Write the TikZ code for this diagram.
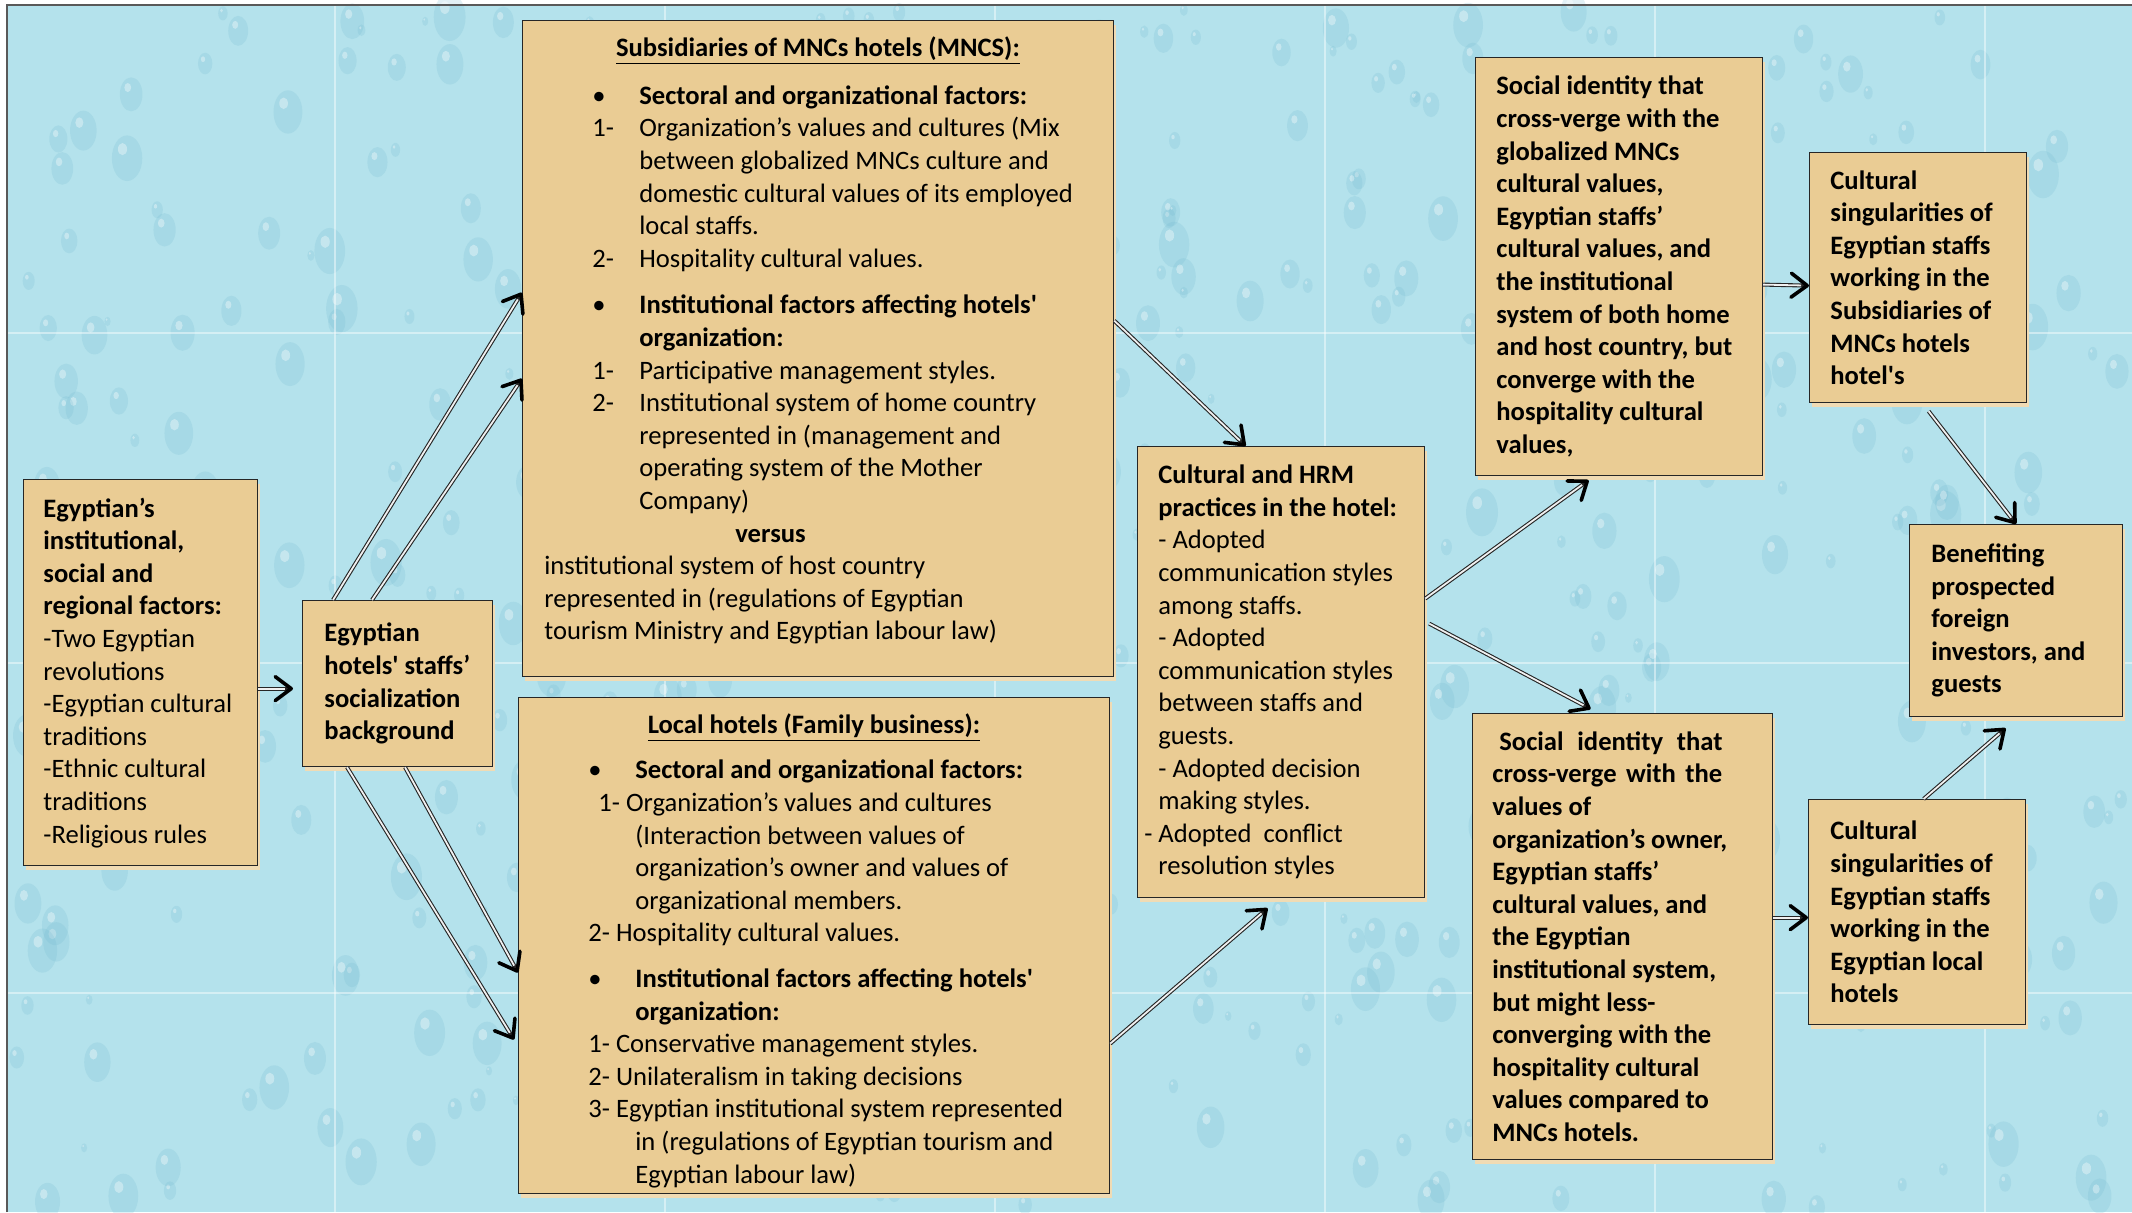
\documentclass[tikz,border=0pt]{standalone}
\usepackage{fontspec}
\setmainfont{Carlito}
\usetikzlibrary{arrows.meta,positioning,calc,shadows}
\definecolor{water}{RGB}{180,226,236}
\definecolor{dropc}{RGB}{112,184,206}
\definecolor{paper}{RGB}{234,204,148}
\tikzset{
  box/.style={draw=black!85,line width=0.6pt,fill=paper,anchor=north west,inner sep=0pt,
    drop shadow={shadow xshift=1.2pt,shadow yshift=-2pt,fill=paper!70!white,opacity=1}},
  txt/.style={anchor=west,align=left,inner sep=0pt,font=\fontsize{13.3}{16.3}\selectfont},
  txtb/.style={txt,font=\fontsize{13.3}{16.3}\selectfont\bfseries},
  arr/.style={draw=black!85,line width=2pt,-{Straight Barb[length=8pt,width=12pt,line width=1.8pt,round,black]},
    postaction={draw=white!88!gray,line width=0.9pt,arrows=-,shorten >=4pt}},
  seam/.style={white,line width=0.7pt,opacity=0.45},
}

\begin{document}
\begin{tikzpicture}[x=0.5pt,y=-0.5pt]
 \useasboundingbox (0,0) rectangle (2132,1212);
 \fill[white] (0,0) rectangle (2132,1212);
 \fill[water] (7,5) rectangle (2132,1212);
 \pgfmathsetseed{11}
 \foreach \i in {1,...,520}{
  \pgfmathsetmacro\dx{15+rnd*2110}\pgfmathsetmacro\dy{10+rnd*1198}\pgfmathsetmacro\dr{3+rnd*13}
  \fill[dropc,opacity=0.2] (\dx,\dy) ellipse [x radius=\dr,y radius=1.5*\dr];
  \fill[white,opacity=0.35] (\dx-0.3*\dr,\dy-0.6*\dr) ellipse [x radius=0.3*\dr,y radius=0.4*\dr];
 }
 \foreach \sx in {335,665,995,1325,1655,1985}{\draw[seam] (\sx,5) -- (\sx,1212);}
 \foreach \sy in {333,663,993}{\draw[seam] (7,\sy) -- (2132,\sy);}
 \draw[gray!70!black,line width=1pt] (7,1212) -- (7,5) -- (2132,5);

 \node[box,minimum width=117pt,minimum height=193pt] (inst) at (23,479){};
 \node[box,minimum width=95pt,minimum height=83pt] (social) at (302,600){};
 \node[box,minimum width=295.5pt,minimum height=328pt] (mnc) at (522,20){};
 \node[box,minimum width=295.5pt,minimum height=248pt] (local) at (518,697){};
 \node[box,minimum width=143.5pt,minimum height=225.5pt] (hrm) at (1137,446){};
 \node[box,minimum width=143.5pt,minimum height=209pt] (sid1) at (1475,57){};
 \node[box,minimum width=108.5pt,minimum height=125pt] (cs1) at (1809,152){};
 \node[box,minimum width=106.5pt,minimum height=96pt] (ben) at (1909,524){};
 \node[box,minimum width=150pt,minimum height=223pt] (sid2) at (1472,713){};
 \node[box,minimum width=108.5pt,minimum height=112.5pt] (cs2) at (1808,799){};

 \node[txt] (inst-t) at ([xshift=10pt]inst.west){\textbf{Egyptian’s}\\ \textbf{institutional,}\\ \textbf{social and}\\ \textbf{regional factors:}\\ -Two Egyptian\\ revolutions\\ -Egyptian cultural\\ traditions\\ -Ethnic cultural\\ traditions\\ -Religious rules};
 \node[txtb] (social-t) at ([xshift=11pt]social.west){Egyptian\\ hotels\textquotesingle{} staffs’\\ socialization\\ background};
 \node[txt] (mnc-t) at ([xshift=11pt,yshift=4pt]mnc.west){\makebox[273.5pt][c]{\underline{\textbf{Subsidiaries of MNCs hotels (MNCS):}}}\\[7.5pt]
  \hspace*{24pt}\makebox[23.5pt][l]{\textbullet}\textbf{Sectoral and organizational factors:}\\
  \hspace*{24pt}\makebox[23.5pt][l]{1-}Organization’s values and cultures (Mix\\
  \hspace*{47.5pt}between globalized MNCs culture and\\
  \hspace*{47.5pt}domestic cultural values of its employed\\
  \hspace*{47.5pt}local staffs.\\
  \hspace*{24pt}\makebox[23.5pt][l]{2-}Hospitality cultural values.\\[7pt]
  \hspace*{24pt}\makebox[23.5pt][l]{\textbullet}\textbf{Institutional factors affecting hotels\textquotesingle}\\
  \hspace*{47.5pt}\textbf{organization:}\\
  \hspace*{24pt}\makebox[23.5pt][l]{1-}Participative management styles.\\
  \hspace*{24pt}\makebox[23.5pt][l]{2-}Institutional system of home country\\
  \hspace*{47.5pt}represented in (management and\\
  \hspace*{47.5pt}operating system of the Mother\\
  \hspace*{47.5pt}Company)\\
  \hspace*{95.5pt}\textbf{versus}\\
  institutional system of host country\\
  represented in (regulations of Egyptian\\
  tourism Ministry and Egyptian labour law)};
 \node[txt] (local-t) at ([xshift=35pt,yshift=-2.5pt]local.west){\makebox[225.5pt][c]{\underline{\textbf{Local hotels (Family business):}}}\\[6.5pt]
  \makebox[23.5pt][l]{\textbullet}\textbf{Sectoral and organizational factors:}\\
  \hspace*{5pt}1- Organization’s values and cultures\\
  \hspace*{23.5pt}(Interaction between values of\\
  \hspace*{23.5pt}organization’s owner and values of\\
  \hspace*{23.5pt}organizational members.\\
  2- Hospitality cultural values.\\[6.5pt]
  \makebox[23.5pt][l]{\textbullet}\textbf{Institutional factors affecting hotels\textquotesingle}\\
  \hspace*{23.5pt}\textbf{organization:}\\
  1- Conservative management styles.\\
  2- Unilateralism in taking decisions\\
  3- Egyptian institutional system represented\\
  \hspace*{23.5pt}in (regulations of Egyptian tourism and\\
  \hspace*{23.5pt}Egyptian labour law)};
 \node[txt] (hrm-t) at ([xshift=10.5pt]hrm.west){\textbf{Cultural and HRM}\\ \textbf{practices in the hotel:}\\ - Adopted\\ communication styles\\ among staffs.\\ - Adopted\\ communication styles\\ between staffs and\\ guests.\\ - Adopted decision\\ making styles.\\ \llap{- }Adopted\ \ conflict\\ resolution styles};
 \node[txtb] (sid1-t) at ([xshift=10.5pt]sid1.west){Social identity that\\ cross-verge with the\\ globalized MNCs\\ cultural values,\\ Egyptian staffs’\\ cultural values, and\\ the institutional\\ system of both home\\ and host country, but\\ converge with the\\ hospitality cultural\\ values,};
 \node[txtb] (cs1-t) at ([xshift=10.5pt]cs1.west){Cultural\\ singularities of\\ Egyptian staffs\\ working in the\\ Subsidiaries of\\ MNCs hotels\\ hotel\textquotesingle s};
 \node[txtb] (ben-t) at ([xshift=11pt]ben.west){Benefiting\\ prospected\\ foreign\\ investors, and\\ guests};
 \node[txtb] (sid2-t) at ([xshift=10pt]sid2.west){\makebox[115pt][s]{\hspace{3.5pt}Social identity that}\\ \makebox[115pt][s]{cross-verge with the}\\ values of\\ organization’s owner,\\ Egyptian staffs’\\ cultural values, and\\ the Egyptian\\ institutional system,\\ but might less-\\ converging with the\\ hospitality cultural\\ values compared to\\ MNCs hotels.};
 \node[txtb] (cs2-t) at ([xshift=11pt]cs2.west){Cultural\\ singularities of\\ Egyptian staffs\\ working in the\\ Egyptian local\\ hotels};

 \draw[arr] ([yshift=-8pt]inst.east) -- ([xshift=-4.5pt,yshift=-2.5pt]social.west);
 \draw[arr] ([xshift=15.5pt]social.north west) -- ([yshift=28pt]mnc.west);
 \draw[arr] ([xshift=35pt]social.north west) -- ([yshift=-15pt]mnc.west);
 \draw[arr] ([xshift=22.5pt]social.south west) -- ([xshift=-2pt,yshift=-47pt]local.west);
 \draw[arr] ([xshift=51.5pt]social.south west) -- ([yshift=-13.5pt]local.west);
 \draw[arr] ([yshift=14pt]mnc.east) -- ([xshift=-17.75pt]hrm.north);
 \draw[arr] ([yshift=-49pt]local.east) -- ([xshift=-6.75pt,yshift=-5pt]hrm.south);
 \draw[arr] ([yshift=36.75pt]hrm.east) -- ([xshift=-15.25pt,yshift=-2pt]sid1.south);
 \draw[arr] ([xshift=2pt,yshift=24.25pt]hrm.east) -- ([xshift=-16pt,yshift=2pt]sid2.north);
 \draw[arr] ([yshift=-9pt]sid1.east) -- ([yshift=-4pt]cs1.west);
 \draw[arr] ([yshift=9.5pt]sid2.east) -- ([yshift=-2.75pt]cs2.west);
 \draw[arr] ([xshift=5.25pt,yshift=-4pt]cs1.south) -- (ben.north);
 \draw[arr] ([xshift=3.25pt]cs2.north) -- ([xshift=-5.25pt,yshift=-5.5pt]ben.south);
\end{tikzpicture}
\end{document}
